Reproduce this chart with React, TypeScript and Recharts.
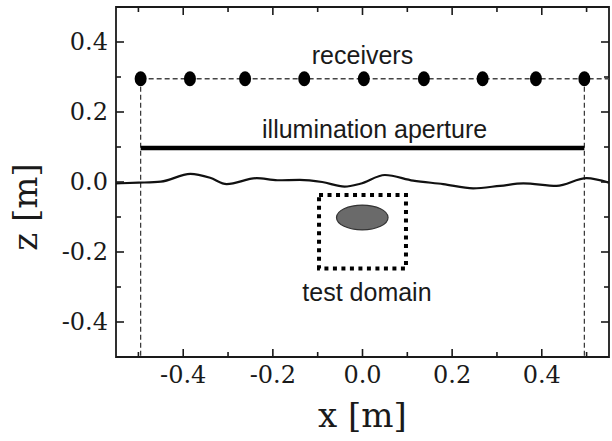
import React from 'react';
import { ComposedChart, XAxis, YAxis, Line, Scatter, ReferenceLine, ReferenceArea } from 'recharts';

// ---- data ----
const axisTicks = [-0.5, -0.4, -0.3, -0.2, -0.1, 0, 0.1, 0.2, 0.3, 0.4, 0.5];
const labeledTicks = [-0.4, -0.2, 0, 0.2, 0.4];
const xDomain = [-0.55, 0.55];
const zDomain = [-0.5, 0.5];

const receiverX = [-0.495, -0.385, -0.262, -0.13, 0.003, 0.137, 0.268, 0.387, 0.495];
const receiverZ = 0.295;

const surfaceX = [-0.55, -0.5, -0.45, -0.384, -0.34, -0.303, -0.236, -0.19, -0.14, -0.09, -0.04, -0.005, 0.05, 0.113, 0.18, 0.247, 0.307, 0.359, 0.433, 0.5, 0.55];
const surfaceZ = [-0.004, -0.002, 0.001, 0.023, 0.012, -0.006, 0.011, 0.005, 0.006, 0.0, -0.013, -0.005, 0.02, 0.004, -0.006, -0.018, -0.011, -0.004, -0.011, 0.011, -0.002];

const apertureX = [-0.495, 0.495];
const apertureZ = 0.097;

const domainBoxX = [-0.097, 0.097];
const domainBoxZ = [-0.247, -0.037];

const targetX = [-0.058, 0.057];
const targetZ = [-0.137, -0.066];

const annotationText = ['receivers', 'illumination aperture', 'test domain'];
const annotationX = [0, 0.027, 0.01];
const annotationZ = [0.337, 0.126, -0.34];

// ---- derived tables ----
const receivers = receiverX.map((x) => ({ x, z: receiverZ }));
const surface = surfaceX.map((x, i) => ({ x, z: surfaceZ[i] }));
const annotations = annotationText.map((text, i) => ({ x: annotationX[i], z: annotationZ[i], text }));

const fmt = (v: number) => (Math.abs(v) < 1e-9 ? '0.0' : v.toFixed(1));
const isLabeled = (v: number) => labeledTicks.some((t) => Math.abs(t - v) < 1e-6);

// chart geometry
const W = 612;
const H = 441;
const M = { top: 7, right: 3, bottom: 0, left: 0 };
const Y_AXIS_W = 116;
const X_AXIS_H = 84;
const PLOT_W = W - M.left - M.right - Y_AXIS_W;
const PLOT_H = H - M.top - M.bottom - X_AXIS_H;

const AX = '#1a1a1a';
const SERIF = '"DejaVu Serif", serif';
const SANS = '"Liberation Sans", Arial, sans-serif';

const BottomTick = (p: any) => {
  const v = p.payload.value;
  const major = isLabeled(v);
  const len = major ? 8 : 5;
  const top = p.y - PLOT_H;
  return (
    <g>
      <line x1={p.x} x2={p.x} y1={p.y} y2={p.y - len} stroke={AX} strokeWidth={1.6} />
      <line x1={p.x} x2={p.x} y1={top} y2={top + len} stroke={AX} strokeWidth={1.6} />
      {major && (
        <text x={p.x} y={p.y + 26} textAnchor="middle" fontFamily={SERIF} fontSize={24} fill="#1a1a1a">
          {fmt(v)}
        </text>
      )}
    </g>
  );
};
const LeftTick = (p: any) => {
  const v = p.payload.value;
  const major = isLabeled(v);
  const len = major ? 8 : 5;
  const right = p.x + PLOT_W;
  return (
    <g>
      <line x1={p.x} x2={p.x + len} y1={p.y} y2={p.y} stroke={AX} strokeWidth={1.6} />
      <line x1={right} x2={right - len} y1={p.y} y2={p.y} stroke={AX} strokeWidth={1.6} />
      {major && (
        <text x={p.x - 8} y={p.y + 8} textAnchor="end" fontFamily={SERIF} fontSize={24} fill="#1a1a1a">
          {fmt(v)}
        </text>
      )}
    </g>
  );
};

const ReceiverDot = (p: any) => <ellipse cx={p.cx} cy={p.cy} rx={6} ry={7.5} fill="#000" />;
const AnnotationText = (p: any) => (
  <text x={p.cx} y={p.cy} textAnchor="middle" fontFamily={SANS} fontSize={25} fill="#1a1a1a">
    {p.payload.text}
  </text>
);
const TargetShape = (p: any) => (
  <ellipse cx={p.x + p.width / 2} cy={p.y + p.height / 2} rx={p.width / 2} ry={p.height / 2} fill="#6a6a6a" stroke="#333" strokeWidth={1.2} />
);

const XLabel = (p: any) => {
  const vb = p.viewBox;
  return (
    <text x={vb.x + vb.width / 2} y={vb.y + 70} textAnchor="middle" fontFamily={SERIF} fontSize={34} fill="#1a1a1a">
      x [m]
    </text>
  );
};
const YLabel = () => (
  <text x={37} y={207} transform="rotate(-90 37 207)" textAnchor="middle" fontFamily={SERIF} fontSize={34} fill="#1a1a1a">
    z [m]
  </text>
);

export default function App() {
  return (
    <div style={{ position: 'absolute', left: 0, top: 0, width: W, height: H, background: '#fff' }}>
      <ComposedChart width={W} height={H} margin={M}>
        <XAxis
          dataKey="x"
          type="number"
          domain={xDomain}
          ticks={axisTicks}
          interval={0}
          height={X_AXIS_H}
          tickSize={0}
          tickMargin={0}
          tickLine={false}
          axisLine={false}
          tick={BottomTick}
          label={XLabel}
          allowDataOverflow
        />
        <YAxis
          dataKey="z"
          type="number"
          domain={zDomain}
          ticks={axisTicks}
          interval={0}
          width={Y_AXIS_W}
          tickSize={0}
          tickMargin={0}
          tickLine={false}
          axisLine={false}
          tick={LeftTick}
          label={YLabel}
          allowDataOverflow
        />

        {/* plot frame */}
        <ReferenceArea
          x1={xDomain[0]}
          x2={xDomain[1]}
          y1={zDomain[0]}
          y2={zDomain[1]}
          fill="none"
          fillOpacity={0}
          stroke={AX}
          strokeWidth={1.8}
          ifOverflow="visible"
        />

        <ReferenceLine
          segment={[{ x: receiverX[0], y: receiverZ }, { x: xDomain[1], y: receiverZ }]}
          stroke="#444"
          strokeWidth={1.4}
          strokeDasharray="5 3"
          ifOverflow="visible"
        />
        <ReferenceLine
          segment={[{ x: apertureX[0], y: receiverZ }, { x: apertureX[0], y: zDomain[0] }]}
          stroke="#333"
          strokeWidth={1.2}
          strokeDasharray="5 3"
        />
        <ReferenceLine
          segment={[{ x: apertureX[1], y: receiverZ }, { x: apertureX[1], y: zDomain[0] }]}
          stroke="#333"
          strokeWidth={1.2}
          strokeDasharray="5 3"
        />
        <ReferenceLine
          segment={[{ x: apertureX[0], y: apertureZ }, { x: apertureX[1], y: apertureZ }]}
          stroke="#000"
          strokeWidth={4.5}
        />
        <ReferenceArea
          x1={domainBoxX[0]}
          x2={domainBoxX[1]}
          y1={domainBoxZ[0]}
          y2={domainBoxZ[1]}
          fill="none"
          fillOpacity={0}
          stroke="#000"
          strokeWidth={4}
          strokeDasharray="4 4.5"
        />
        <ReferenceArea
          x1={targetX[0]}
          x2={targetX[1]}
          y1={targetZ[0]}
          y2={targetZ[1]}
          shape={TargetShape}
        />

        <Line
          data={surface}
          dataKey="z"
          type="monotone"
          stroke="#111"
          strokeWidth={2.2}
          dot={false}
          activeDot={false}
          isAnimationActive={false}
        />
        <Scatter data={receivers} dataKey="z" shape={ReceiverDot} isAnimationActive={false} />
        <Scatter data={annotations} dataKey="z" shape={AnnotationText} isAnimationActive={false} />
      </ComposedChart>
    </div>
  );
}
